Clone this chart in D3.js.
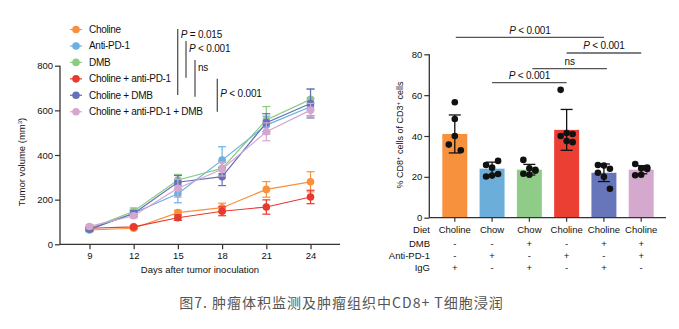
<!DOCTYPE html>
<html>
<head>
<meta charset="utf-8">
<script src="https://cdn.jsdelivr.net/npm/d3@7"></script>
<style>
  body { margin: 0; background: #fff; }
  svg { font-family: "Liberation Sans", Arial, sans-serif; }
</style>
</head>
<body>
<div id="chart"></div>
<script>
// ---- tumor volume data ----
const days = [9, 12, 15, 18, 21, 24];
const groups = ["Choline", "Anti-PD-1", "DMB", "Choline + anti-PD-1", "Choline + DMB", "Choline + anti-PD-1 + DMB"];
const groupColors = ["#F7913D", "#6AB0E0", "#8CCB84", "#E8392E", "#6470B8", "#D6A6CF"];
const volCholine = [64, 72, 142, 164, 246, 280];
const volAntiPD1 = [66, 140, 226, 377, 534, 616];
const volDMB = [70, 148, 288, 340, 557, 649];
const volCholAnti = [72, 78, 119, 148, 167, 212];
const volCholDMB = [68, 138, 278, 303, 545, 631];
const volTriple = [80, 128, 251, 336, 504, 601];
const errCholine = [6, 6, 10, 20, 35, 45];
const errAntiPD1 = [10, 15, 40, 60, 40, 40];
const errDMB = [8, 15, 25, 30, 60, 45];
const errCholAnti = [6, 6, 12, 20, 32, 30];
const errCholDMB = [8, 12, 30, 40, 40, 65];
const errTriple = [8, 10, 40, 30, 40, 30];
const volTicks = [0, 200, 400, 600, 800];

// ---- CD8 bar data ----
const barGroups = ["g1", "g2", "g3", "g4", "g5", "g6"];
const diet = ["Choline", "Chow", "Chow", "Choline", "Choline", "Choline"];
const dmbRow = ["-", "-", "+", "-", "+", "+"];
const antiRow = ["-", "+", "-", "+", "-", "+"];
const iggRow = ["+", "-", "+", "-", "+", "-"];
const barColors = ["#F7913D", "#6AAED9", "#8FCC87", "#EC3F34", "#6776BA", "#D5A8CE"];
const cd8Mean = [41, 24, 23.5, 43, 22, 23.5];
const cd8Sd = [9.3, 3.2, 2.6, 10, 4.3, 2];
const cd8Points = [
  [56.5, 48.3, 40, 35.8, 33],
  [25.8, 24.5, 27.8, 20.2, 20.6, 21.4],
  [28.3, 24.2, 23, 21.5, 21, 23.5],
  [62.6, 41.5, 41, 40, 37.5, 37],
  [25.8, 25.5, 24, 22, 20, 14.2],
  [26.3, 24.2, 23.8, 20.8, 21, 24.6]
];
const cd8Ticks = [0, 20, 40, 60, 80];

const W = 679, H = 329;
const svg = d3.select("#chart").append("svg")
  .attr("width", W).attr("height", H)
  .style("background", "#fff");

const axisCol = "#333";

// ================= line chart =================
const seriesVals = [volCholine, volAntiPD1, volDMB, volCholAnti, volCholDMB, volTriple];
const seriesErr = [errCholine, errAntiPD1, errDMB, errCholAnti, errCholDMB, errTriple];

const x = d3.scaleLinear().domain([7, 26]).range([60, 340]);
const y = d3.scaleLinear().domain([0, 800]).range([244.3, 65.7]);

const gy = svg.append("g").attr("transform", "translate(60,0)")
  .call(d3.axisLeft(y).tickValues(volTicks).tickSize(5).tickPadding(2));
const gx = svg.append("g").attr("transform", "translate(0,244.3)")
  .call(d3.axisBottom(x).tickValues(days).tickSize(5).tickPadding(3));
[gx, gy].forEach(g => {
  g.select(".domain").attr("stroke", axisCol).attr("stroke-width", 1.3);
  g.selectAll(".tick line").attr("stroke", axisCol).attr("stroke-width", 1.2);
  g.selectAll("text").attr("fill", "#111").style("font-size", "9.5px");
});
// x axis domain extends without end ticks
gx.select(".domain").attr("d", "M60,0H340");
gy.select(".domain").attr("d", "M0," + y(800) + "V" + y(0));

svg.append("text").attr("x", 200).attr("y", 272.5)
  .attr("text-anchor", "middle").style("font-size", "9.5px").attr("fill", "#111")
  .text("Days after tumor inoculation");
const yl = svg.append("text")
  .attr("transform", "translate(25,162) rotate(-90)")
  .attr("text-anchor", "middle").style("font-size", "9.5px").attr("fill", "#111");
yl.append("tspan").text("Tumor volume (mm");
yl.append("tspan").attr("baseline-shift", "super").style("font-size", "6px").text("3");
yl.append("tspan").text(")");

const line = d3.line().x((d, i) => x(days[i])).y(d => y(d));
seriesVals.forEach((vals, s) => {
  const col = groupColors[s];
  const g = svg.append("g");
  vals.forEach((v, i) => {
    const e = seriesErr[s][i];
    const cx = x(days[i]);
    g.append("line").attr("x1", cx).attr("x2", cx).attr("y1", y(v - e)).attr("y2", y(v + e))
      .attr("stroke", col).attr("stroke-width", 1.2);
    [v - e, v + e].forEach(t => g.append("line")
      .attr("x1", cx - 4).attr("x2", cx + 4).attr("y1", y(t)).attr("y2", y(t))
      .attr("stroke", col).attr("stroke-width", 1.2));
  });
  g.append("path").datum(vals).attr("d", line)
    .attr("fill", "none").attr("stroke", col).attr("stroke-width", 1.2);
  g.selectAll("circle").data(vals).join("circle")
    .attr("cx", (d, i) => x(days[i])).attr("cy", d => y(d)).attr("r", 3.8)
    .attr("fill", col);
});

// legend
const legend = svg.append("g");
groups.forEach((name, i) => {
  const ly = 29.5 + i * 16.45;
  legend.append("line").attr("x1", 70).attr("x2", 82).attr("y1", ly).attr("y2", ly)
    .attr("stroke", groupColors[i]).attr("stroke-width", 1.2);
  legend.append("circle").attr("cx", 76).attr("cy", ly).attr("r", 3.8).attr("fill", groupColors[i]);
  legend.append("text").attr("x", 89).attr("y", ly).attr("dy", "0.35em")
    .style("font-size", "10px").style("letter-spacing", "-0.3px")
    .attr("fill", "#111").text(name);
});

// significance brackets (left)
const sigLeft = [
  { x: 177.7, y1: 29, y2: 95, ty: 34.5, label: "= 0.015" },
  { x: 186, y1: 41, y2: 77.7, ty: 48.5, label: "< 0.001" },
  { x: 195, y1: 60, y2: 96.7, ty: 67, label: null },
  { x: 217.3, y1: 78.7, y2: 111.7, ty: 93.5, label: "< 0.001" }
];
sigLeft.forEach(s => {
  svg.append("line").attr("x1", s.x).attr("x2", s.x).attr("y1", s.y1).attr("y2", s.y2)
    .attr("stroke", "#555").attr("stroke-width", 1.3);
  const t = svg.append("text").attr("x", s.x + 3).attr("y", s.ty).attr("dy", "0.35em")
    .style("font-size", "10px").style("letter-spacing", "-0.2px").attr("fill", "#111");
  if (s.label) {
    t.append("tspan").style("font-style", "italic").text("P");
    t.append("tspan").text(" " + s.label);
  } else {
    t.text("ns");
  }
});

// ================= bar chart =================
const xb = d3.scaleBand().domain(barGroups).range([430, 666]).padding(0.33);
const yb = d3.scaleLinear().domain([0, 80]).range([217.7, 54.3]);
const cx = g => xb(g) + xb.bandwidth() / 2;

svg.append("g").selectAll("rect").data(barGroups).join("rect")
  .attr("x", d => xb(d)).attr("width", xb.bandwidth())
  .attr("y", (d, i) => yb(cd8Mean[i])).attr("height", (d, i) => yb(0) - yb(cd8Mean[i]))
  .attr("fill", (d, i) => barColors[i]);

const gyb = svg.append("g").attr("transform", "translate(429.3,0)")
  .call(d3.axisLeft(yb).tickValues(cd8Ticks).tickSize(5).tickPadding(2));
const gxb = svg.append("g").attr("transform", "translate(0,217.7)")
  .call(d3.axisBottom(xb).tickSize(4).tickFormat(""));
[gxb, gyb].forEach(g => {
  g.select(".domain").attr("stroke", axisCol).attr("stroke-width", 1.3);
  g.selectAll(".tick line").attr("stroke", axisCol).attr("stroke-width", 1.2);
  g.selectAll("text").attr("fill", "#111").style("font-size", "9.5px");
});
gxb.select(".domain").attr("d", "M429.3,0H666");
gyb.select(".domain").attr("d", "M0," + yb(80) + "V" + yb(0));

// error bars and points
barGroups.forEach((g, i) => {
  const c = cx(g);
  const lo = cd8Mean[i] - cd8Sd[i], hi = cd8Mean[i] + cd8Sd[i];
  svg.append("line").attr("x1", c).attr("x2", c).attr("y1", yb(lo)).attr("y2", yb(hi))
    .attr("stroke", "#111").attr("stroke-width", 1.3);
  [lo, hi].forEach(t => svg.append("line").attr("x1", c - 6).attr("x2", c + 6)
    .attr("y1", yb(t)).attr("y2", yb(t)).attr("stroke", "#111").attr("stroke-width", 1.3));
  const pts = cd8Points[i];
  const offs = pts.length === 5 ? [0, 0, 0, -6, 6] : [-6, 0, 6, -6, 0, 6];
  pts.forEach((v, k) => {
    svg.append("circle").attr("cx", c + offs[k]).attr("cy", yb(v)).attr("r", 3.3).attr("fill", "#111");
  });
});

const yl2 = svg.append("text")
  .attr("transform", "translate(403,135) rotate(-90)")
  .attr("text-anchor", "middle").style("font-size", "9px").attr("fill", "#111");
yl2.append("tspan").text("% CD8");
yl2.append("tspan").attr("baseline-shift", "super").style("font-size", "6px").text("+");
yl2.append("tspan").text(" cells of CD3");
yl2.append("tspan").attr("baseline-shift", "super").style("font-size", "6px").text("+");
yl2.append("tspan").text(" cells");

// significance lines (right)
const sigRight = [
  { a: "g1", b: "g5", y: 37.3, ty: 30.5, label: "< 0.001", dx: [1, 0] },
  { a: "g4", b: "g6", y: 53, ty: 45.5, label: "< 0.001", dx: [0, 0] },
  { a: "g3", b: "g5", y: 68.7, ty: 61.5, label: null, dx: [3, 3] },
  { a: "g2", b: "g4", y: 82.7, ty: 75.5, label: "< 0.001", dx: [0, 0] }
];
sigRight.forEach(s => {
  const x1 = cx(s.a) + s.dx[0], x2 = cx(s.b) + s.dx[1];
  svg.append("line").attr("x1", x1).attr("x2", x2).attr("y1", s.y).attr("y2", s.y)
    .attr("stroke", "#555").attr("stroke-width", 1.3);
  const t = svg.append("text").attr("x", (x1 + x2) / 2).attr("y", s.ty).attr("dy", "0.35em")
    .attr("text-anchor", "middle").style("font-size", "10px").style("letter-spacing", "-0.2px")
    .attr("fill", "#111");
  if (s.label) {
    t.append("tspan").style("font-style", "italic").text("P");
    t.append("tspan").text(" " + s.label);
  } else {
    t.text("ns");
  }
});

// condition table
const rows = [
  { name: "Diet", vals: diet, y: 230 },
  { name: "DMB", vals: dmbRow, y: 244 },
  { name: "Anti-PD-1", vals: antiRow, y: 255.7 },
  { name: "IgG", vals: iggRow, y: 267.7 }
];
rows.forEach(r => {
  svg.append("text").attr("x", 430).attr("y", r.y).attr("dy", "0.35em")
    .attr("text-anchor", "end").style("font-size", "9.5px").attr("fill", "#111").text(r.name);
  barGroups.forEach((g, i) => {
    svg.append("text").attr("x", cx(g)).attr("y", r.y).attr("dy", "0.35em")
      .attr("text-anchor", "middle").style("font-size", "9.5px").attr("fill", "#111")
      .text(r.vals[i]);
  });
});

// caption
svg.append("text").attr("x", 341.5).attr("y", 303.5).attr("dy", "0.35em")
  .attr("text-anchor", "middle")
  .style("font-family", "'Noto Sans CJK SC', 'Noto Sans', sans-serif")
  .style("font-size", "14px").style("letter-spacing", "1px").attr("fill", "#555")
  .text("图7. 肿瘤体积监测及肿瘤组织中CD8+ T细胞浸润");
</script>
</body>
</html>
